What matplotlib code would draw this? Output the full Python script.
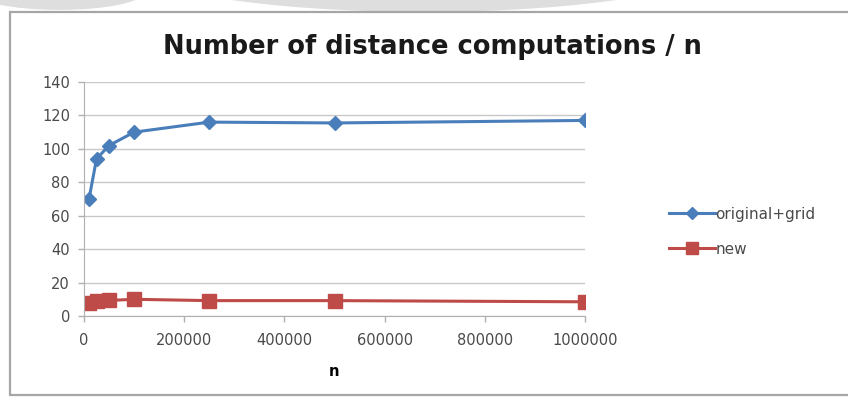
import matplotlib
matplotlib.use("Agg")
import matplotlib.pyplot as plt
from matplotlib.patches import Rectangle, Ellipse

n_values = [10000, 25000, 50000, 100000, 250000, 500000, 1000000]
original_grid = [70, 94, 102, 110, 116, 115.5, 117]
new = [8, 9, 9.3, 10, 9.2, 9.2, 8.5]
x_ticks = [0, 200000, 400000, 600000, 800000, 1000000]
y_ticks = [0, 20, 40, 60, 80, 100, 120, 140]

plt.rcParams['font.family'] = ['DejaVu Sans']

fig = plt.figure(figsize=(8.48, 3.97), dpi=100)

# faint background shapes along the top edge
for cx, cy, w, h in [(0.07, 1.02, 0.2, 0.09), (0.5, 1.08, 0.66, 0.22)]:
    fig.patches.append(Ellipse((cx, cy), w, h, transform=fig.transFigure,
                               facecolor='#dedede', edgecolor='none', zorder=0))

# chart frame, right edge runs off the figure
fig.patches.append(Rectangle((10/848, 2/397), 1.1, 1 - 14/397,
                             transform=fig.transFigure, facecolor='white',
                             edgecolor='#a6a6a6', linewidth=1.6, zorder=1))

ax = fig.add_axes([84/848, 1 - 316/397, 501/848, 234/397])
ax.set_zorder(2)
ax.patch.set_alpha(0)

ax.plot(n_values, original_grid, color='#4a7ebb', linewidth=2.2, marker='D',
        markersize=7.5, label='original+grid')
ax.plot(n_values, new, color='#be4b48', linewidth=2.2, marker='s',
        markersize=10, label='new')

ax.set_xlim(0, 1000000)
ax.set_ylim(0, 140)
ax.set_xticks(x_ticks)
ax.set_xticklabels([str(t) for t in x_ticks])
ax.set_yticks(y_ticks)
ax.grid(axis='y', color='#c8c8c8', linewidth=1)
ax.set_axisbelow(True)
for side in ['top', 'right']:
    ax.spines[side].set_visible(False)
for side in ['left', 'bottom']:
    ax.spines[side].set_color('#b0b0b0')
ax.tick_params(colors='#b0b0b0', labelcolor='#4a4a4a', labelsize=10.5,
               length=4, width=1)
ax.tick_params(axis='x', pad=8)
ax.tick_params(axis='y', pad=6)

ax.set_xlabel('n', fontsize=10.5, fontweight='bold', labelpad=12)
fig.text(432/848, 1 - 47/397, 'Number of distance computations / n',
         ha='center', va='center', fontsize=18.5, fontweight='bold',
         color='#1a1a1a')

ax.legend(loc='center left', bbox_to_anchor=((655 - 84)/501, 0.36),
          frameon=False, fontsize=11, labelcolor='#4a4a4a', handlelength=3,
          handletextpad=0.05, labelspacing=1.3, markerscale=0.8)

fig.savefig('out.png', dpi=100)
